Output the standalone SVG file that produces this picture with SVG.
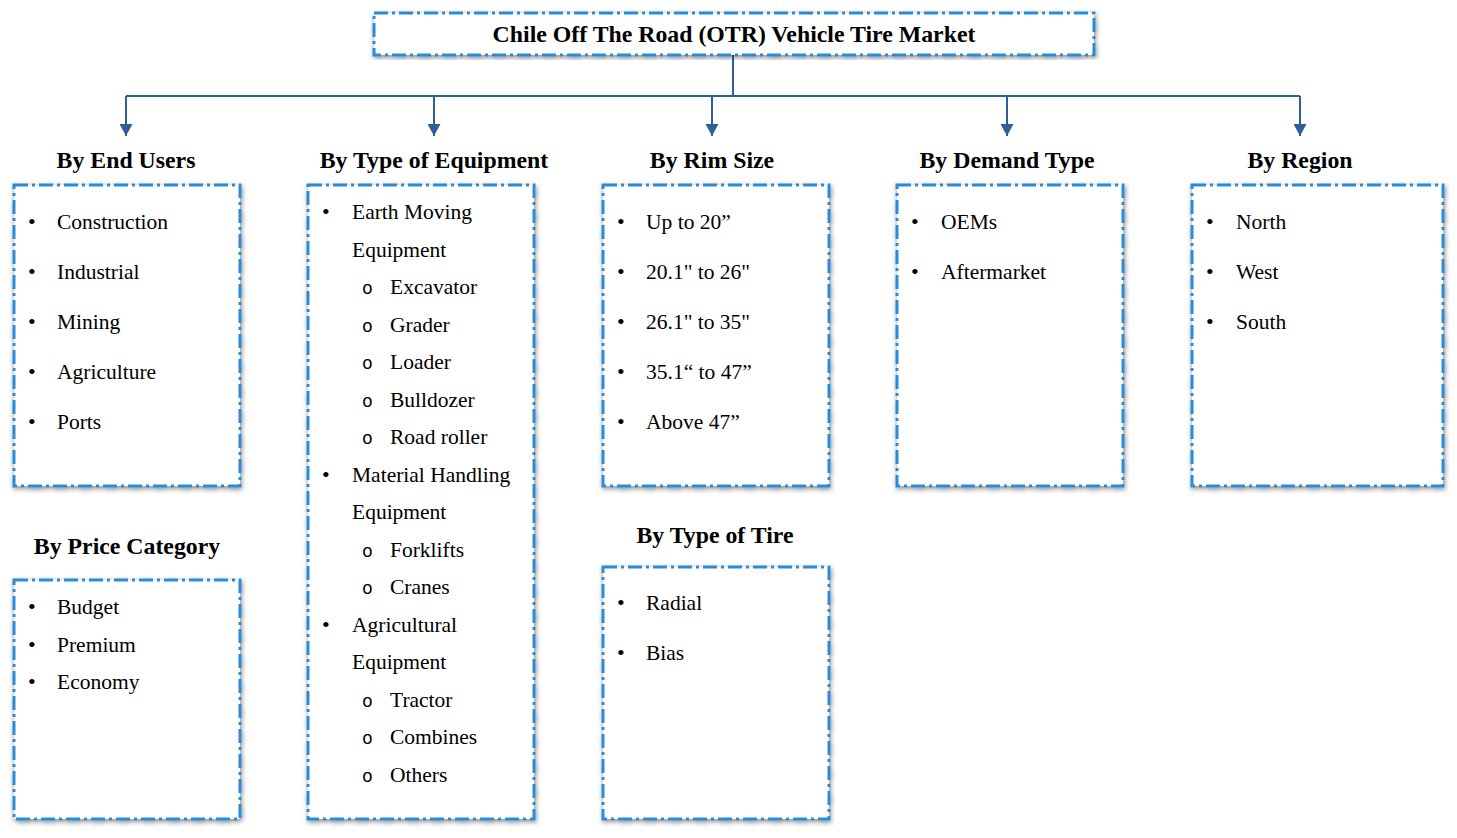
<svg xmlns="http://www.w3.org/2000/svg" width="1457" height="838" viewBox="0 0 1457 838">
<defs>
<filter id="sh" x="-10%" y="-10%" width="120%" height="120%">
<feDropShadow dx="1" dy="2" stdDeviation="2.5" flood-color="#000" flood-opacity="0.45"/>
</filter>
<marker id="ad" markerWidth="13" markerHeight="12" refX="6.5" refY="12" orient="0" markerUnits="userSpaceOnUse" viewBox="0 0 13 12">
<path d="M0,0 L13,0 L6.5,12 Z" fill="#2e6096"/>
</marker>
</defs>
<style>
.box{fill:#fff;stroke:#2a8bd8;stroke-width:3;stroke-dasharray:14 4 3 4;filter:url(#sh)}
.t{font-family:"Liberation Serif",serif;font-size:21.5px;fill:#000}
.h{font-family:"Liberation Serif",serif;font-size:23.8px;font-weight:bold;fill:#000;text-anchor:middle}
.b{font-family:"Liberation Serif",serif;font-size:22px;fill:#000}
.o{font-family:"Liberation Mono",monospace;font-size:18px;fill:#000}
.c{fill:none;stroke:#2e6096;stroke-width:2}
</style>
<g id="connectors">
<path class="c" d="M733,55 V96"/>
<path class="c" d="M126,96 H1300"/>
<path class="c" d="M126,96 V136" marker-end="url(#ad)"/>
<path class="c" d="M434,96 V136" marker-end="url(#ad)"/>
<path class="c" d="M712,96 V136" marker-end="url(#ad)"/>
<path class="c" d="M1007,96 V136" marker-end="url(#ad)"/>
<path class="c" d="M1300,96 V136" marker-end="url(#ad)"/>
</g>
<g id="title">
<rect class="box" x="374" y="13" width="720" height="42"/>
<text class="h" x="734" y="42">Chile Off The Road (OTR) Vehicle Tire Market</text>
</g>
<g id="end-users">
<text class="h" x="126" y="168">By End Users</text>
<rect class="box" x="14" y="185" width="226" height="301"/>
<text class="b" x="28" y="229">•</text><text class="t" x="57" y="229">Construction</text>
<text class="b" x="28" y="279">•</text><text class="t" x="57" y="279">Industrial</text>
<text class="b" x="28" y="329">•</text><text class="t" x="57" y="329">Mining</text>
<text class="b" x="28" y="379">•</text><text class="t" x="57" y="379">Agriculture</text>
<text class="b" x="28" y="429">•</text><text class="t" x="57" y="429">Ports</text>
</g>
<g id="equipment">
<text class="h" x="434" y="168">By Type of Equipment</text>
<rect class="box" x="308" y="185" width="226" height="634"/>
<text class="b" x="322" y="219">•</text><text class="t" x="352" y="219">Earth Moving</text>
<text class="t" x="352" y="257">Equipment</text>
<text class="o" x="362" y="294">o</text><text class="t" x="390" y="294">Excavator</text>
<text class="o" x="362" y="332">o</text><text class="t" x="390" y="332">Grader</text>
<text class="o" x="362" y="369">o</text><text class="t" x="390" y="369">Loader</text>
<text class="o" x="362" y="407">o</text><text class="t" x="390" y="407">Bulldozer</text>
<text class="o" x="362" y="444">o</text><text class="t" x="390" y="444">Road roller</text>
<text class="b" x="322" y="482">•</text><text class="t" x="352" y="482">Material Handling</text>
<text class="t" x="352" y="519">Equipment</text>
<text class="o" x="362" y="557">o</text><text class="t" x="390" y="557">Forklifts</text>
<text class="o" x="362" y="594">o</text><text class="t" x="390" y="594">Cranes</text>
<text class="b" x="322" y="632">•</text><text class="t" x="352" y="632">Agricultural</text>
<text class="t" x="352" y="669">Equipment</text>
<text class="o" x="362" y="707">o</text><text class="t" x="390" y="707">Tractor</text>
<text class="o" x="362" y="744">o</text><text class="t" x="390" y="744">Combines</text>
<text class="o" x="362" y="782">o</text><text class="t" x="390" y="782">Others</text>
</g>
<g id="rim-size">
<text class="h" x="712" y="168">By Rim Size</text>
<rect class="box" x="603" y="185" width="226" height="301"/>
<text class="b" x="617" y="229">•</text><text class="t" x="646" y="229">Up to 20”</text>
<text class="b" x="617" y="279">•</text><text class="t" x="646" y="279">20.1" to 26"</text>
<text class="b" x="617" y="329">•</text><text class="t" x="646" y="329">26.1" to 35"</text>
<text class="b" x="617" y="379">•</text><text class="t" x="646" y="379">35.1“ to 47”</text>
<text class="b" x="617" y="429">•</text><text class="t" x="646" y="429">Above 47”</text>
</g>
<g id="demand-type">
<text class="h" x="1007" y="168">By Demand Type</text>
<rect class="box" x="897" y="185" width="226" height="301"/>
<text class="b" x="911" y="229">•</text><text class="t" x="941" y="229">OEMs</text>
<text class="b" x="911" y="279">•</text><text class="t" x="941" y="279">Aftermarket</text>
</g>
<g id="region">
<text class="h" x="1300" y="168">By Region</text>
<rect class="box" x="1192" y="185" width="251" height="301"/>
<text class="b" x="1206" y="229">•</text><text class="t" x="1236" y="229">North</text>
<text class="b" x="1206" y="279">•</text><text class="t" x="1236" y="279">West</text>
<text class="b" x="1206" y="329">•</text><text class="t" x="1236" y="329">South</text>
</g>
<g id="price-category">
<text class="h" x="127" y="554">By Price Category</text>
<rect class="box" x="14" y="580" width="226" height="239"/>
<text class="b" x="28" y="614">•</text><text class="t" x="57" y="614">Budget</text>
<text class="b" x="28" y="652">•</text><text class="t" x="57" y="652">Premium</text>
<text class="b" x="28" y="689">•</text><text class="t" x="57" y="689">Economy</text>
</g>
<g id="tire-type">
<text class="h" x="715" y="543">By Type of Tire</text>
<rect class="box" x="603" y="567" width="226" height="252"/>
<text class="b" x="617" y="610">•</text><text class="t" x="646" y="610">Radial</text>
<text class="b" x="617" y="660">•</text><text class="t" x="646" y="660">Bias</text>
</g>
</svg>
